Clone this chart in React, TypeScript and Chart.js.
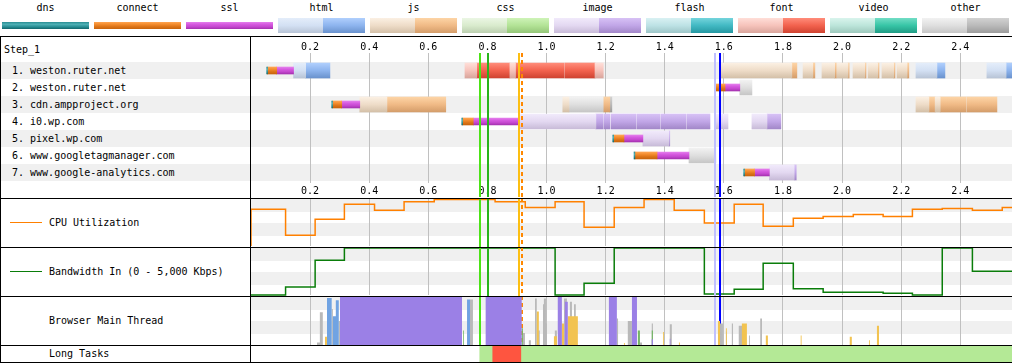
import React, { useEffect, useRef } from 'react';
import { Chart, registerables } from 'chart.js';

Chart.register(...registerables);

const FONT = '"DejaVu Sans Mono", monospace';
const X_MAX = 2.575;

// ---------- data ----------
const LEGEND_LABELS = ['dns', 'connect', 'ssl', 'html', 'js', 'css', 'image', 'flash', 'font', 'video', 'other'];
const TICK_VALUES = [0.2, 0.4, 0.6, 0.8, 1.0, 1.2, 1.4, 1.6, 1.8, 2.0, 2.2, 2.4];
const STEP_NAME = 'Step_1';
const ROW_HOSTS = [
  'weston.ruter.net',
  'weston.ruter.net',
  'cdn.ampproject.org',
  'i0.wp.com',
  'pixel.wp.com',
  'www.googletagmanager.com',
  'www.google-analytics.com',
];

type Seg = [number, number, number]; // [row, start s, end s]

const DNS: Seg[] = [[1, 0.053, 0.056], [2, 1.569, 1.572], [3, 0.273, 0.276], [4, 0.713, 0.716], [5, 1.224, 1.227], [6, 1.296, 1.299], [7, 1.667, 1.670]];
const CONNECT: Seg[] = [[1, 0.056, 0.087], [2, 1.572, 1.604], [3, 0.276, 0.307], [4, 0.716, 0.752], [5, 1.227, 1.262], [6, 1.299, 1.374], [7, 1.670, 1.704]];
const SSL: Seg[] = [[1, 0.087, 0.144], [2, 1.604, 1.654], [3, 0.307, 0.368], [4, 0.752, 0.906], [5, 1.262, 1.326], [6, 1.374, 1.482], [7, 1.704, 1.754]];
const HTML_WAIT: Seg[] = [[1, 0.144, 0.185], [1, 2.250, 2.321], [1, 2.490, 2.555]];
const HTML_LOAD: Seg[] = [[1, 0.185, 0.267], [1, 2.321, 2.348], [1, 2.555, 2.58]];
const FONT_WAIT: Seg[] = [[1, 0.724, 0.764], [1, 0.876, 0.895], [1, 1.164, 1.192]];
const FONT_LOAD: Seg[] = [[1, 0.764, 0.876], [1, 0.895, 1.060], [1, 1.063, 1.164]];
const JS_WAIT: Seg[] = [
  [1, 1.589, 1.830], [1, 1.868, 1.901], [1, 1.932, 1.975], [1, 1.983, 2.020], [1, 2.037, 2.077], [1, 2.088, 2.121], [1, 2.135, 2.175], [1, 2.186, 2.220],
  [3, 0.368, 0.460], [3, 1.055, 1.076], [3, 2.250, 2.294], [3, 2.315, 2.332],
];
const JS_LOAD: Seg[] = [
  [1, 1.830, 1.847], [1, 1.901, 1.908], [1, 1.975, 1.981], [1, 2.020, 2.024], [1, 2.077, 2.081], [1, 2.121, 2.125], [1, 2.175, 2.179], [1, 2.220, 2.226],
  [3, 0.460, 0.571], [3, 0.573, 0.659], [3, 1.194, 1.214], [3, 2.294, 2.315], [3, 2.332, 2.420], [3, 2.423, 2.524],
];
const IMAGE_WAIT: Seg[] = [[4, 0.906, 1.167], [4, 1.573, 1.614], [4, 1.695, 1.746], [5, 1.326, 1.414], [7, 1.754, 1.838]];
const IMAGE_LOAD: Seg[] = [
  [4, 1.167, 1.191], [4, 1.194, 1.214], [4, 1.218, 1.303], [4, 1.306, 1.384], [4, 1.387, 1.472], [4, 1.475, 1.553], [4, 1.746, 1.793],
  [5, 1.414, 1.417], [7, 1.838, 1.845],
];
const OTHER_WAIT: Seg[] = [[2, 1.654, 1.695], [3, 1.076, 1.194], [6, 1.482, 1.573]];
const OTHER_LOAD: Seg[] = [[3, 1.214, 1.221]];

// page events (s)
const MARKER_TIMES = [0.774, 0.8015, 0.9057, 0.9166, 1.570, 1.5857];

// CPU utilization (%), step starts
const CPU_TIMES = [0, 0, 0.117, 0.217, 0.316, 0.418, 0.518, 0.620, 0.826, 0.928, 1.029, 1.127, 1.229, 1.330, 1.432, 1.534, 1.635, 1.733, 1.835, 1.936, 2.038, 2.139, 2.238, 2.339, 2.441, 2.542, 2.575];
const CPU_VALUES = [0, 78, 23, 57, 89, 76, 94, 99, 94, 82, 94, 40, 82, 99, 76, 49, 89, 42, 59, 63, 67, 63, 78, 80, 76, 82, 82];

// Bandwidth in (Kbps), step starts
const BW_TIMES = [0, 0.117, 0.217, 0.316, 1.029, 1.127, 1.229, 1.534, 1.635, 1.733, 1.835, 1.936, 2.139, 2.238, 2.339, 2.441, 2.575];
const BW_VALUES = [0, 850, 3690, 5000, 0, 1245, 5000, 105, 605, 3370, 670, 285, 180, 0, 5000, 2520, 2520];

// Browser main thread: [start s, end s, % busy]
type MT = [number, number, number];
const MT_LAYOUT: MT[] = [[0.301, 0.714, 100], [0.794, 0.916, 100], [1.038, 1.052, 100], [1.062, 1.072, 90], [1.211, 1.238, 100], [1.289, 1.306, 100], [1.356, 1.360, 12], [1.417, 1.420, 13]];
const MT_PAINT: MT[] = [[0.717, 0.720, 30], [0.916, 0.920, 35], [1.309, 1.316, 30], [1.356, 1.360, 30]];
const MT_PARSE: MT[] = [[0.257, 0.273, 98], [0.277, 0.287, 60], [0.287, 0.297, 93], [0.731, 0.741, 95]];
const MT_SCRIPT: MT[] = [
  [0.250, 0.257, 17], [0.967, 0.974, 70], [1.025, 1.035, 18], [1.052, 1.059, 45], [1.072, 1.106, 60], [1.262, 1.265, 4], [1.394, 1.397, 27],
  [1.448, 1.451, 5], [1.580, 1.587, 50], [1.607, 1.610, 35], [1.661, 1.678, 45], [1.742, 1.749, 20], [1.860, 1.863, 20], [2.026, 2.033, 17],
  [2.091, 2.094, 10], [2.118, 2.125, 40],
];
const MT_OTHER: MT[] = [
  [0.223, 0.233, 5], [0.233, 0.243, 68], [0.273, 0.277, 75], [0.297, 0.301, 50], [0.714, 0.717, 80], [0.741, 0.751, 95], [0.920, 0.927, 25],
  [0.940, 0.947, 10], [0.961, 0.967, 97], [0.971, 0.977, 30], [0.988, 0.991, 85], [0.991, 0.998, 97], [0.998, 1.001, 45], [1.028, 1.035, 30],
  [1.059, 1.069, 97], [1.079, 1.086, 90], [1.093, 1.099, 85], [1.238, 1.242, 55], [1.275, 1.289, 50], [1.316, 1.323, 5], [1.356, 1.360, 45],
  [1.417, 1.424, 43], [1.587, 1.597, 45], [1.607, 1.610, 28], [1.627, 1.631, 45], [1.648, 1.651, 80], [1.651, 1.672, 40], [1.685, 1.688, 20],
  [1.723, 1.729, 55],
];

// Long tasks
const LONG_TASKS: [number, number][] = [[0.818, 0.913]];
const INTERACTIVE: [number, number][] = [[0.774, 0.818], [0.913, 2.575]];

// ---------- styles ----------
const THIN: Record<string, string[]> = {
  dns: ['#2a8d93', '#4fb0b5', '#2a9096', '#12666b'],
  connect: ['#ffa552', '#f38c2e', '#dc7418', '#c8640c'],
  ssl: ['#e47eec', '#d65ae0', '#c548cf', '#a532b0'],
};
const BOX: Record<string, { wait: string[]; load: string[] }> = {
  html: { wait: ['#e4edfa', '#d3e0f3', '#b8c4d6'], load: ['#b0cffd', '#8db4ee', '#6a92cd'] },
  js: { wait: ['#fbf0e3', '#eedcc8', '#d4c0a8'], load: ['#fdd4a6', '#f0ba86', '#d49d6a'] },
  css: { wait: ['#ebf6e4', '#d9ebcd', '#bccfb0'], load: ['#cef3b8', '#b3e396', '#94c678'] },
  image: { wait: ['#f1eafb', '#e3d8f1', '#c8bbd8'], load: ['#d7c1f5', '#c1a6e7', '#a287c8'] },
  flash: { wait: ['#d9f1f3', '#bde2e5', '#9ec6c8'], load: ['#74d4dc', '#42b9c3', '#2698a2'] },
  font: { wait: ['#ffded8', '#f6c3bb', '#d9a59c'], load: ['#ff8c7a', '#f2624e', '#cf4331'] },
  video: { wait: ['#d9f4ed', '#bce5da', '#9dc8bc'], load: ['#72ddc5', '#37c5a6', '#209c84'] },
  other: { wait: ['#f2f2f2', '#dfdfdf', '#c6c6c6'], load: ['#d2d2d2', '#bababa', '#9c9c9c'] },
};
const MARKER_STYLES: { color: string; width: number; dash?: number[] }[] = [
  { color: '#4ce316', width: 2 },
  { color: '#28b41c', width: 2 },
  { color: '#fcbf12', width: 2 },
  { color: '#ff8800', width: 2, dash: [4, 3] },
  { color: '#c0c0ff', width: 2 },
  { color: '#0000ff', width: 2 },
];
const MT_COLORS = { layout: '#9b80e6', paint: '#74b665', parse: '#70a3e2', script: '#f2c350', other: '#b9b9b9' };

// ---------- helpers ----------
function timeScale(o: { position?: string; labels?: boolean; grid?: boolean; height?: number; pad?: number }) {
  return {
    type: 'linear',
    position: o.position ?? 'bottom',
    min: 0,
    max: X_MAX,
    offset: false,
    afterBuildTicks: (s: any) => {
      s.ticks = TICK_VALUES.map((v) => ({ value: v }));
    },
    afterFit: (s: any) => {
      s.height = o.height ?? 0;
    },
    border: { display: false },
    grid: { display: !!o.grid, color: '#c0c0c0', lineWidth: 1, drawTicks: false, offset: false },
    ticks: {
      display: !!o.labels,
      padding: o.pad ?? 1,
      color: '#000',
      autoSkip: false,
      maxRotation: 0,
      font: { family: FONT, size: 10 },
      callback: (v: any) => Number(v).toFixed(1),
    },
  };
}

function markerPlugin(when: 'before' | 'after', fromArea: boolean) {
  const draw = (chart: any) => {
    const ctx = chart.ctx;
    const xs = chart.scales.x;
    const top = fromArea ? chart.chartArea.top : 0;
    const bottom = chart.height;
    MARKER_TIMES.forEach((t, i) => {
      const st = MARKER_STYLES[i];
      const px = Math.round(xs.getPixelForValue(t));
      ctx.save();
      ctx.strokeStyle = st.color;
      ctx.lineWidth = st.width;
      ctx.setLineDash(st.dash ?? []);
      ctx.beginPath();
      ctx.moveTo(px, top);
      ctx.lineTo(px, bottom);
      ctx.stroke();
      ctx.restore();
    });
  };
  return when === 'before' ? { id: 'markersB', beforeDatasetsDraw: draw } : { id: 'markersA', afterDatasetsDraw: draw };
}

function gradientFor(c: any, stops: string[], thick: number) {
  const chart = c.chart;
  const ys = chart?.scales?.y;
  const raw = c.raw;
  if (!ys || !raw) return stops[1];
  const yc = ys.getPixelForValue(raw.y);
  if (!Number.isFinite(yc)) return stops[1];
  const g = chart.ctx.createLinearGradient(0, yc - thick / 2, 0, yc + thick / 2);
  stops.forEach((s, i) => g.addColorStop(i / (stops.length - 1), s));
  return g;
}

function barSet(segs: Seg[], stops: string[], thick: number) {
  return {
    data: segs.map(([r, s, e]) => ({ y: r, x: [s, e] })),
    barThickness: thick,
    maxBarThickness: thick,
    barPercentage: 1,
    categoryPercentage: 1,
    grouped: false,
    borderWidth: 0,
    borderSkipped: false,
    backgroundColor: (c: any) => gradientFor(c, stops, thick),
  };
}

function mtSet(segs: MT[], color: string) {
  const pts: { x: number; y: number }[] = [];
  segs.forEach(([s, e, h]) => {
    pts.push({ x: s, y: 0 }, { x: s, y: h }, { x: e, y: h }, { x: e, y: 0 });
  });
  return { data: pts, borderWidth: 0, pointRadius: 0, fill: 'origin', backgroundColor: color, borderColor: color, tension: 0 };
}

const BASE = {
  animation: false,
  responsive: false,
  devicePixelRatio: 1,
  events: [] as string[],
  plugins: { legend: { display: false }, tooltip: { enabled: false } },
};

function ChartBox({ left, top, width, height, make }: { left: number; top: number; width: number; height: number; make: () => any }) {
  const ref = useRef<HTMLCanvasElement>(null);
  useEffect(() => {
    const chart = new Chart(ref.current as HTMLCanvasElement, make());
    return () => chart.destroy();
  }, []);
  return <canvas ref={ref} width={width} height={height} style={{ position: 'absolute', left, top, width, height }} />;
}

// ---------- chart configs ----------
const waterfallConfig = () => ({
  type: 'bar',
  data: {
    datasets: [
      barSet(DNS, THIN.dns, 7),
      barSet(CONNECT, THIN.connect, 7),
      barSet(SSL, THIN.ssl, 7),
      barSet(HTML_WAIT, BOX.html.wait, 15),
      barSet(HTML_LOAD, BOX.html.load, 15),
      barSet(JS_WAIT, BOX.js.wait, 15),
      barSet(JS_LOAD, BOX.js.load, 15),
      barSet(FONT_WAIT, BOX.font.wait, 15),
      barSet(FONT_LOAD, BOX.font.load, 15),
      barSet(IMAGE_WAIT, BOX.image.wait, 15),
      barSet(IMAGE_LOAD, BOX.image.load, 15),
      barSet(OTHER_WAIT, BOX.other.wait, 15),
      barSet(OTHER_LOAD, BOX.other.load, 15),
    ],
  },
  options: {
    ...BASE,
    indexAxis: 'y',
    layout: { padding: { top: 3, bottom: 1, left: 0, right: 0 } },
    scales: {
      x: timeScale({ position: 'bottom', labels: true, grid: true, height: 13, pad: 2 }),
      xTop: timeScale({ position: 'top', labels: true, grid: false, height: 13, pad: 0 }),
      y: {
        type: 'linear',
        min: -0.03,
        max: 7.62,
        reverse: true,
        display: false,
        offset: false,
        bounds: 'data',
        grace: 0,
        beginAtZero: false,
        grid: { offset: false },
      },
    },
  },
  plugins: [markerPlugin('after', true)],
});

const cpuConfig = () => ({
  type: 'line',
  data: {
    datasets: [
      {
        data: CPU_TIMES.map((t, i) => ({ x: t, y: CPU_VALUES[i] })),
        stepped: true,
        borderColor: '#ff8000',
        borderWidth: 1.5,
        pointRadius: 0,
        fill: false,
        clip: false,
      },
    ],
  },
  options: {
    ...BASE,
    layout: { padding: { top: 1, bottom: 1, left: 0, right: 0 } },
    scales: { x: timeScale({ grid: true }), y: { display: false, min: 0, max: 100 } },
  },
  plugins: [markerPlugin('after', false)],
});

const bwConfig = () => ({
  type: 'line',
  data: {
    datasets: [
      {
        data: BW_TIMES.map((t, i) => ({ x: t, y: BW_VALUES[i] })),
        stepped: true,
        borderColor: '#0a7d0a',
        borderWidth: 1.5,
        pointRadius: 0,
        fill: false,
        clip: false,
      },
    ],
  },
  options: {
    ...BASE,
    layout: { padding: { top: 1, bottom: 1, left: 0, right: 0 } },
    scales: { x: timeScale({ grid: true }), y: { display: false, min: 0, max: 5000 } },
  },
  plugins: [markerPlugin('after', false)],
});

const mainThreadConfig = () => ({
  type: 'line',
  data: {
    datasets: [
      mtSet(MT_LAYOUT, MT_COLORS.layout),
      mtSet(MT_PAINT, MT_COLORS.paint),
      mtSet(MT_PARSE, MT_COLORS.parse),
      mtSet(MT_SCRIPT, MT_COLORS.script),
      mtSet(MT_OTHER, MT_COLORS.other),
    ],
  },
  options: {
    ...BASE,
    layout: { padding: { top: 1, bottom: 0, left: 0, right: 0 } },
    scales: { x: timeScale({ grid: true }), y: { display: false, min: 0, max: 100 } },
  },
  plugins: [markerPlugin('before', false)],
});

const longTasksConfig = () => ({
  type: 'bar',
  data: {
    labels: ['lt'],
    datasets: [
      {
        data: LONG_TASKS.map(([s, e]) => ({ y: 'lt', x: [s, e] })),
        backgroundColor: '#fe5540',
        grouped: false,
        barPercentage: 1,
        categoryPercentage: 1,
        borderWidth: 0,
      },
      {
        data: INTERACTIVE.map(([s, e]) => ({ y: 'lt', x: [s, e] })),
        backgroundColor: '#b4e996',
        grouped: false,
        barPercentage: 1,
        categoryPercentage: 1,
        borderWidth: 0,
      },
    ],
  },
  options: {
    ...BASE,
    indexAxis: 'y',
    layout: { padding: 0 },
    scales: { x: timeScale({}), y: { type: 'category', display: false } },
  },
});

// ---------- HTML parts ----------
function grad(stops: string[]) {
  return `linear-gradient(to bottom, ${stops.map((s, i) => `${s} ${Math.round((i / (stops.length - 1)) * 100)}%`).join(', ')})`;
}

function LegendItem({ name, left }: { name: string; left: number }) {
  const thin = THIN[name];
  const box = BOX[name];
  return (
    <>
      <div style={{ position: 'absolute', left, top: 2, width: 87, height: 12, lineHeight: '12px', textAlign: 'center' }}>{name}</div>
      {thin && <div style={{ position: 'absolute', left, top: 22, width: 87, height: 7, background: grad(thin) }} />}
      {box && (
        <>
          <div style={{ position: 'absolute', left, top: 18, width: 45, height: 15, background: grad(box.wait) }} />
          <div style={{ position: 'absolute', left: left + 45, top: 18, width: 42, height: 15, background: grad(box.load) }} />
        </>
      )}
    </>
  );
}

const abs = (o: any) => ({ position: 'absolute' as const, ...o });

export default function App() {
  const hLines = [36, 198, 247, 296, 345, 362];
  const panelBands: [number, number][] = [[199, 212], [223, 236], [248, 261], [272, 285], [297, 310], [321, 334]];
  return (
    <div
      style={{
        position: 'fixed', left: 0, top: 0, width: 1012, height: 363, background: '#fff', overflow: 'hidden',
        fontFamily: FONT, fontSize: 10, color: '#000', whiteSpace: 'pre',
      }}
    >
      {LEGEND_LABELS.map((n, i) => (
        <LegendItem key={n} name={n} left={2 + 92 * i} />
      ))}

      {ROW_HOSTS.map((_, r) => (r % 2 === 0 ? <div key={'rb' + r} style={abs({ left: 1, top: 62 + 17 * r, width: 1011, height: 17, background: '#f0f0f0' })} /> : null))}
      {panelBands.map(([a, b], i) => (
        <div key={'pb' + i} style={abs({ left: 251, top: a, width: 761, height: b - a, background: '#f0f0f0' })} />
      ))}

      <div style={abs({ left: 4, top: 43, height: 13, lineHeight: '13px' })}>{STEP_NAME}</div>
      {ROW_HOSTS.map((h, r) => (
        <div key={'rl' + r} style={abs({ left: 12, top: 62 + 17 * r, height: 17, lineHeight: '17px' })}>{`${r + 1}. ${h}`}</div>
      ))}

      <div style={abs({ left: 10, top: 222, width: 32, height: 1, background: '#ff8000' })} />
      <div style={abs({ left: 49, top: 216, height: 14, lineHeight: '14px' })}>CPU Utilization</div>
      <div style={abs({ left: 10, top: 271, width: 32, height: 1, background: '#0a7d0a' })} />
      <div style={abs({ left: 49, top: 265, height: 14, lineHeight: '14px' })}>Bandwidth In (0 - 5,000 Kbps)</div>
      <div style={abs({ left: 49, top: 314, height: 14, lineHeight: '14px' })}>Browser Main Thread</div>
      <div style={abs({ left: 49, top: 347, height: 14, lineHeight: '14px' })}>Long Tasks</div>

      <ChartBox left={251} top={37} width={761} height={160} make={waterfallConfig} />
      <ChartBox left={251} top={198} width={761} height={49} make={cpuConfig} />
      <ChartBox left={251} top={247} width={761} height={49} make={bwConfig} />
      <ChartBox left={251} top={296} width={761} height={49} make={mainThreadConfig} />
      <ChartBox left={251} top={346} width={761} height={16} make={longTasksConfig} />

      {hLines.map((y) => (
        <div key={'hl' + y} style={abs({ left: 0, top: y, width: 1012, height: 1, background: '#000' })} />
      ))}
      <div style={abs({ left: 0, top: 36, width: 1, height: 327, background: '#000' })} />
      <div style={abs({ left: 250, top: 36, width: 1, height: 327, background: '#000' })} />
    </div>
  );
}
